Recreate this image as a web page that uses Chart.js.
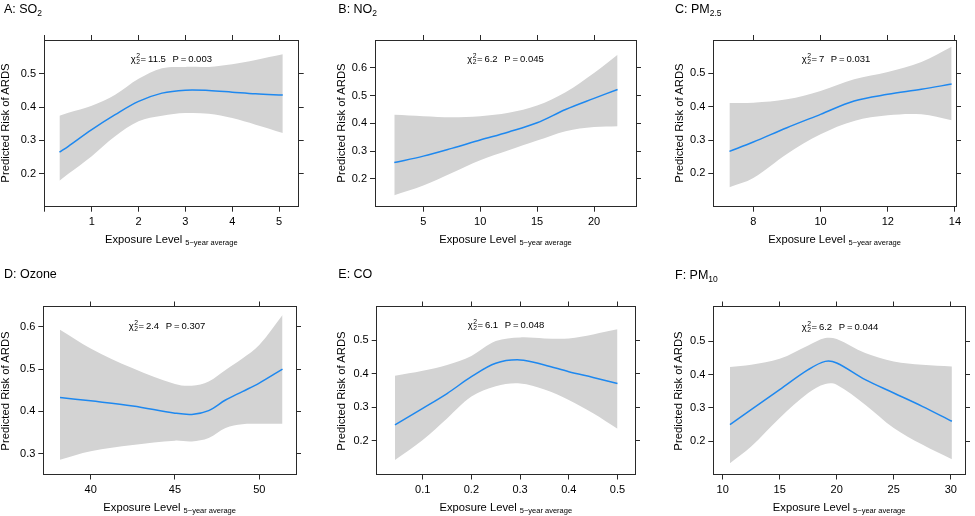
<!DOCTYPE html>
<html><head><meta charset="utf-8">
<script src="https://cdn.jsdelivr.net/npm/chart.js@4.4.1/dist/chart.umd.min.js"></script>
<style>
html,body{margin:0;padding:0;background:#fff;}
body{width:975px;height:516px;position:relative;overflow:hidden;font-family:"Liberation Sans",Arial,Helvetica,sans-serif;color:#000;}
.panel{position:absolute;width:325px;height:258px;}
.panel canvas{position:absolute;left:0;top:0;}
.txt{position:absolute;white-space:nowrap;line-height:1;}
.ttl{font-size:12.5px;transform:translateY(-50%);}
.ttl .sb{font-size:8.5px;position:relative;top:3px;}
.ytl{font-size:11.3px;transform:translate(-50%,-50%) rotate(-90deg);}
.xtl{font-size:11.2px;transform:translate(-50%,-50%);}
.xtl .sb{font-size:7.5px;position:relative;top:2px;}
.ann{font-size:9.5px;transform:translate(-50%,-50%);}
.ss{display:inline-block;vertical-align:middle;font-size:6.8px;line-height:6px;margin-left:0.5px;margin-right:0.5px;}
.ss span{display:block;}
</style></head>
<body>
<script>
// ---------- DATA ----------
// A: SO2
const so2X      = [0.31, 0.5, 1.0, 1.5, 2.0, 2.5, 3.0, 3.5, 4.0, 4.5, 5.08];
const so2Fit    = [0.264, 0.282, 0.332, 0.377, 0.417, 0.442, 0.451, 0.450, 0.445, 0.440, 0.436];
const so2Upper  = [0.374, 0.383, 0.404, 0.437, 0.485, 0.517, 0.521, 0.521, 0.529, 0.542, 0.559];
const so2Lower  = [0.178, 0.199, 0.252, 0.312, 0.357, 0.374, 0.382, 0.380, 0.367, 0.347, 0.322];
const so2XTicks = [0, 1, 2, 3, 4, 5];
const so2XTickLabels = ['', '1', '2', '3', '4', '5'];
const so2YTicks = [0.2, 0.3, 0.4, 0.5];
const so2Chi = '11.5', so2P = '0.003';

// B: NO2
const no2X      = [2.45, 5, 7.5, 10, 12.5, 15, 17.5, 20, 22.07];
const no2Fit    = [0.259, 0.282, 0.310, 0.340, 0.369, 0.402, 0.450, 0.490, 0.522];
const no2Upper  = [0.431, 0.426, 0.422, 0.426, 0.438, 0.464, 0.512, 0.581, 0.647];
const no2Lower  = [0.141, 0.176, 0.221, 0.267, 0.303, 0.338, 0.372, 0.387, 0.390];
const no2XTicks = [5, 10, 15, 20];
const no2XTickLabels = ['5', '10', '15', '20'];
const no2YTicks = [0.2, 0.3, 0.4, 0.5, 0.6];
const no2Chi = '6.2', no2P = '0.045';

// C: PM2.5
const pm25X      = [7.29, 8, 9, 10, 11, 12, 13, 13.9];
const pm25Fit    = [0.266, 0.294, 0.337, 0.377, 0.417, 0.437, 0.452, 0.468];
const pm25Upper  = [0.411, 0.412, 0.422, 0.447, 0.482, 0.504, 0.534, 0.580];
const pm25Lower  = [0.158, 0.186, 0.258, 0.317, 0.357, 0.374, 0.377, 0.359];
const pm25XTicks = [8, 10, 12, 14];
const pm25XTickLabels = ['8', '10', '12', '14'];
const pm25YTicks = [0.2, 0.3, 0.4, 0.5];
const pm25Chi = '7', pm25P = '0.031';

// D: Ozone
const o3X      = [38.18, 40, 42.5, 45, 46, 47, 48, 49, 50, 51.38];
const o3Fit    = [0.433, 0.425, 0.413, 0.396, 0.393, 0.402, 0.427, 0.447, 0.467, 0.500];
const o3Upper  = [0.593, 0.549, 0.502, 0.465, 0.461, 0.471, 0.498, 0.525, 0.557, 0.628];
const o3Lower  = [0.286, 0.306, 0.321, 0.331, 0.329, 0.337, 0.361, 0.370, 0.371, 0.371];
const o3XTicks = [40, 45, 50];
const o3XTickLabels = ['40', '45', '50'];
const o3YTicks = [0.3, 0.4, 0.5, 0.6];
const o3Chi = '2.4', o3P = '0.307';

// E: CO
const coX      = [0.043, 0.1, 0.15, 0.2, 0.25, 0.3, 0.35, 0.4, 0.45, 0.5];
const coFit    = [0.248, 0.297, 0.341, 0.391, 0.431, 0.441, 0.426, 0.406, 0.389, 0.371];
const coUpper  = [0.394, 0.409, 0.426, 0.453, 0.497, 0.508, 0.505, 0.505, 0.517, 0.532];
const coLower  = [0.143, 0.203, 0.267, 0.332, 0.363, 0.371, 0.353, 0.322, 0.282, 0.236];
const coXTicks = [0.1, 0.2, 0.3, 0.4, 0.5];
const coXTickLabels = ['0.1', '0.2', '0.3', '0.4', '0.5'];
const coYTicks = [0.2, 0.3, 0.4, 0.5];
const coChi = '6.1', coP = '0.048';

// F: PM10
const pm10X      = [10.64, 12.5, 15, 17.5, 19, 20, 22.5, 25, 27.5, 30.1];
const pm10Fit    = [0.250, 0.295, 0.355, 0.415, 0.440, 0.435, 0.385, 0.345, 0.305, 0.260];
const pm10Upper  = [0.423, 0.430, 0.448, 0.488, 0.510, 0.507, 0.465, 0.440, 0.430, 0.425];
const pm10Lower  = [0.134, 0.184, 0.270, 0.345, 0.372, 0.370, 0.310, 0.240, 0.190, 0.146];
const pm10XTicks = [10, 15, 20, 25, 30];
const pm10XTickLabels = ['10', '15', '20', '25', '30'];
const pm10YTicks = [0.2, 0.3, 0.4, 0.5];
const pm10Chi = '6.2', pm10P = '0.044';

const yTitle = 'Predicted Risk of ARDS';
const xTitleMain = 'Exposure Level';
const xTitleSub = '5\u2212year average';

// ---------- LAYOUT ----------
const W = 325, H = 258;
const FONT = '"Liberation Sans", Arial, sans-serif';
const BAND = '#d3d3d3', LINE = '#1e88ef', AXIS = '#2a2a2a';

const panels = [
  {col:0,row:0, box:[44,40,298.7,206.7], xr:[-0.02,5.42], yr:[0.1,0.602],
   x:so2X, fit:so2Fit, up:so2Upper, lo:so2Lower, xt:so2XTicks, xl:so2XTickLabels, yt:so2YTicks,
   title:'A: SO<span class="sb">2</span>', chi:so2Chi, p:so2P, tp:[4,8.5], ytx:5.7, ann:[171.4,59.3]},
  {col:1,row:0, box:[50,40,311,206.7], xr:[0.755,23.69], yr:[0.1,0.7],
   x:no2X, fit:no2Fit, up:no2Upper, lo:no2Lower, xt:no2XTicks, xl:no2XTickLabels, yt:no2YTicks,
   title:'B: NO<span class="sb">2</span>', chi:no2Chi, p:no2P, tp:[13.3,8.5], ytx:16.7, ann:[180.5,59.3]},
  {col:2,row:0, box:[63.3,40,306,206.7], xr:[6.81,14.03], yr:[0.1,0.6],
   x:pm25X, fit:pm25Fit, up:pm25Upper, lo:pm25Lower, xt:pm25XTicks, xl:pm25XTickLabels, yt:pm25YTicks,
   title:'C: PM<span class="sb">2.5</span>', chi:pm25Chi, p:pm25P, tp:[25,8.5], ytx:30, ann:[186,59.3]},
  {col:0,row:1, box:[43.3,48.5,296,216.5], xr:[37.19,52.18], yr:[0.251,0.648],
   x:o3X, fit:o3Fit, up:o3Upper, lo:o3Lower, xt:o3XTicks, xl:o3XTickLabels, yt:o3YTicks,
   title:'D: Ozone', chi:o3Chi, p:o3P, tp:[4,16], ytx:5.7, ann:[167,67.7]},
  {col:1,row:1, box:[51.7,48.5,310,216.5], xr:[0.0055,0.536], yr:[0.1,0.6],
   x:coX, fit:coFit, up:coUpper, lo:coLower, xt:coXTicks, xl:coXTickLabels, yt:coYTicks,
   title:'E: CO', chi:coChi, p:coP, tp:[13.3,16], ytx:16.7, ann:[181,67]},
  {col:2,row:1, box:[63.3,48.5,315,216.5], xr:[9.18,31.25], yr:[0.1,0.605],
   x:pm10X, fit:pm10Fit, up:pm10Upper, lo:pm10Lower, xt:pm10XTicks, xl:pm10XTickLabels, yt:pm10YTicks,
   title:'F: PM<span class="sb">10</span>', chi:pm10Chi, p:pm10P, tp:[25,16.7], ytx:29.3, ann:[190,69]}
];

function axis(pos, range, ticks, labels, showLabels, size) {
  const horiz = (pos === 'bottom' || pos === 'top');
  return {
    type: 'linear', position: pos, min: range[0], max: range[1], bounds: 'data',
    afterFit: s => { if (horiz) s.height = size; else s.width = size; },
    afterBuildTicks: s => { s.ticks = ticks.map(v => ({value: v})); },
    ticks: {display: showLabels, autoSkip: false, maxRotation: 0, minRotation: 0,
            padding: horiz ? 4 : 3, color: '#000', font: {family: FONT, size: 11},
            callback: (v, i) => labels[i]},
    grid: {drawOnChartArea: false, drawTicks: true, tickLength: 5, color: AXIS, lineWidth: 1},
    border: {display: true, color: AXIS, width: 1}
  };
}

const pts = (xs, ys) => xs.map((x, i) => ({x: x, y: ys[i]}));
const TENSION = 0.35;

panels.forEach(P => {
  const div = document.createElement('div');
  div.className = 'panel';
  div.style.left = (P.col * W) + 'px';
  div.style.top = (P.row * H) + 'px';
  const cv = document.createElement('canvas');
  cv.width = W; cv.height = H;
  cv.style.width = W + 'px'; cv.style.height = H + 'px';
  div.appendChild(cv);
  document.body.appendChild(div);

  const [l, t, r, b] = P.box;
  const yl = P.yt.map(v => v.toFixed(1));
  new Chart(cv, {
    type: 'line',
    data: {datasets: [
      {data: pts(P.x, P.lo), xAxisID: 'x', yAxisID: 'y', order: 3, borderWidth: 0, borderColor: 'rgba(0,0,0,0)',
       pointRadius: 0, fill: false, tension: TENSION},
      {data: pts(P.x, P.up), xAxisID: 'x', yAxisID: 'y', order: 2, borderWidth: 0, borderColor: 'rgba(0,0,0,0)',
       backgroundColor: BAND, pointRadius: 0, fill: '-1', tension: TENSION},
      {data: pts(P.x, P.fit), xAxisID: 'x', yAxisID: 'y', order: 1, borderWidth: 1.5, borderColor: LINE,
       pointRadius: 0, fill: false, tension: TENSION}
    ]},
    options: {
      responsive: false, animation: false, devicePixelRatio: 1,
      layout: {padding: {left: 0, top: t, right: W - r, bottom: 0}},
      plugins: {legend: {display: false}, tooltip: {enabled: false}, title: {display: false}},
      scales: {
        x: axis('bottom', P.xr, P.xt, P.xl, true, H - b),
        x2: axis('top', P.xr, P.xt, P.xl, false, 0),
        y: axis('left', P.yr, P.yt, yl, true, l),
        y2: axis('right', P.yr, P.yt, yl, false, 0)
      }
    }
  });

  const add = (cls, html, x, y) => {
    const e = document.createElement('div');
    e.className = 'txt ' + cls;
    e.innerHTML = html;
    e.style.left = x + 'px'; e.style.top = y + 'px';
    div.appendChild(e);
  };
  add('ttl', P.title, P.tp[0], P.tp[1]);
  add('ytl', yTitle, P.ytx, (t + b) / 2);
  add('xtl', xTitleMain + ' <span class="sb">' + xTitleSub + '</span>', (l + r) / 2, b + 33);
  add('ann', '\u03C7<span class="ss"><span>2</span><span>2</span></span>=\u2009' + P.chi +
      '\u2002\u2009P\u2009=\u2009' + P.p, P.ann[0], P.ann[1]);
});
</script>
</body></html>
